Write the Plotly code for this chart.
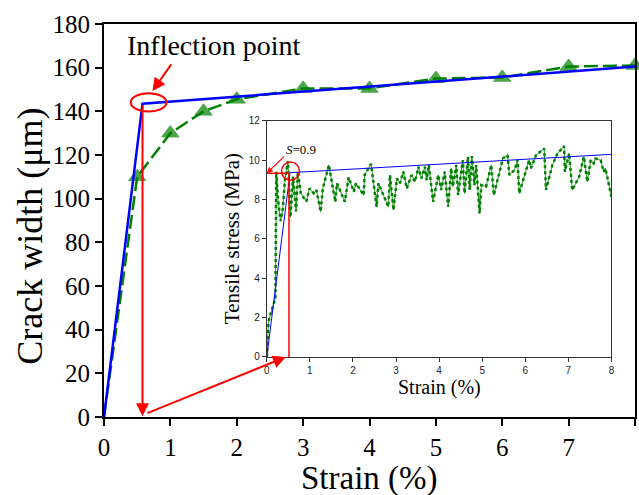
import plotly.graph_objects as go

# Main chart data
main_strain = [0, 0.5, 1, 1.5, 2, 3, 4, 5, 6, 7, 8]
main_crack = [0, 110, 130, 140, 145.5, 150.5, 150.5, 155, 155.5, 160.5, 161]
fit_strain = [0, 0.58, 8]
fit_crack = [0, 143.5, 160.5]

# Inset data
inset_strain = [0, 0.04, 0.09, 0.13, 0.17, 0.20, 0.22, 0.26, 0.32, 0.37,
                0.42, 0.49, 0.55, 0.61, 0.68, 0.72, 0.79, 0.92, 0.99, 1.09,
                1.15, 1.25, 1.30, 1.44, 1.59, 1.63, 1.81, 1.90, 2.02, 2.07,
                2.25, 2.27, 2.42, 2.55, 2.59, 2.82, 2.86, 2.94, 3.02, 3.09,
                3.17, 3.25, 3.36, 3.44, 3.52, 3.59, 3.67, 3.71, 3.76, 3.86,
                3.98, 4.05, 4.13, 4.21, 4.28, 4.32, 4.40, 4.44, 4.55, 4.59,
                4.67, 4.71, 4.76, 4.82, 4.86, 4.94, 4.98, 5.09, 5.21, 5.27,
                5.48, 5.59, 5.63, 5.75, 5.82, 5.86, 6.02, 6.09, 6.13, 6.25,
                6.44, 6.48, 6.63, 6.75, 6.90, 6.92, 7.02, 7.09, 7.25, 7.36,
                7.44, 7.52, 7.59, 7.63, 7.75, 7.82, 7.86, 8.0]
inset_stress = [0, 1.8, 2.2, 2.5, 2.8, 3.0, 9.4, 8.0, 6.9, 7.5,
                9.0, 9.95, 7.1, 9.15, 7.4, 9.4, 8.3, 7.9, 8.56, 8.31,
                8.48, 7.38, 8.56, 9.75, 7.88, 8.82, 7.88, 9.12, 8.39, 8.82,
                8.22, 9.24, 9.80, 7.63, 8.82, 7.63, 9.24, 7.46, 9.07, 8.82,
                9.41, 8.56, 9.24, 8.90, 9.66, 9.07, 9.66, 8.98, 9.75, 7.88,
                9.24, 8.48, 9.41, 7.63, 9.58, 8.65, 9.75, 8.22, 10.0, 8.31,
                10.17, 8.48, 10.2, 8.73, 9.75, 7.29, 8.73, 8.65, 9.75, 8.22,
                10.08, 10.25, 9.24, 9.49, 10.0, 8.31, 9.49, 10.0, 9.58, 10.25,
                10.59, 8.48, 9.75, 10.34, 10.71, 9.41, 10.34, 8.48, 9.15, 10.17,
                8.90, 10.0, 9.83, 10.08, 10.0, 9.41, 9.58, 8.14]
inset_fit_strain = [0, 0.54, 8]
inset_fit_stress = [0, 9.36, 10.29]
inflection_strain = 0.58
inflection_crack = 143.5
inset_s_strain = 0.515
inset_s_stress = 9.33

GREEN = "#008000"
BLUE = "#0000FF"
RED = "#FF0000"
SERIF = "Times New Roman, Liberation Serif, Tinos, serif"
SANS = "Arial, Liberation Sans, sans-serif"

fig = go.Figure()

fig.add_trace(go.Scatter(
    x=main_strain, y=main_crack, mode="lines+markers",
    line=dict(color=GREEN, width=2.5, dash="14px,5px"),
    marker=dict(symbol="triangle-up", size=[0] + [15] * (len(main_strain) - 1), color=GREEN,
                line=dict(color=GREEN, width=1)),
    cliponaxis=False, xaxis="x", yaxis="y", showlegend=False))
fig.add_trace(go.Scatter(
    x=fit_strain, y=fit_crack, mode="lines",
    line=dict(color=BLUE, width=2.5), xaxis="x", yaxis="y", showlegend=False))

# Inset traces
fig.add_trace(go.Scatter(
    x=inset_strain, y=inset_stress, mode="lines",
    line=dict(color=GREEN, width=0.8), xaxis="x2", yaxis="y2", showlegend=False))
fig.add_trace(go.Scatter(
    x=inset_strain, y=inset_stress, mode="lines",
    line=dict(color=GREEN, width=2.5, dash="dot"), xaxis="x2", yaxis="y2", showlegend=False))
fig.add_trace(go.Scatter(
    x=inset_fit_strain, y=inset_fit_stress, mode="lines",
    line=dict(color=BLUE, width=1), xaxis="x2", yaxis="y2", showlegend=False))

shapes = [
    dict(type="circle", xref="x", yref="y", x0=0.404, x1=0.94, y0=139.9, y1=148.3,
         line=dict(color=RED, width=2)),
    dict(type="circle", xref="x2", yref="y2", x0=0.55 - 0.21, x1=0.55 + 0.21,
         y0=9.44 - 0.46, y1=9.44 + 0.46, line=dict(color=RED, width=1.5)),
    dict(type="line", xref="x2", yref="y2", x0=0, x1=inset_s_strain,
         y0=inset_s_stress, y1=inset_s_stress, line=dict(color=RED, width=1.5)),
    dict(type="line", xref="x2", yref="y2", x0=inset_s_strain, x1=inset_s_strain,
         y0=inset_s_stress, y1=0, line=dict(color=RED, width=1.5)),
]

annotations = [
    dict(x=inflection_strain, y=0.3, xref="x", yref="y",
         ax=inflection_strain, ay=inflection_crack, axref="x", ayref="y",
         text="", showarrow=True, arrowhead=2, arrowsize=1.3, arrowwidth=2, arrowcolor=RED),
    dict(x=2.74, y=27.5, xref="x", yref="y",
         ax=0.63, ay=1.5, axref="x", ayref="y",
         text="", showarrow=True, arrowhead=2, arrowsize=1.3, arrowwidth=2, arrowcolor=RED),
    dict(x=0.73, y=149.3, xref="x", yref="y",
         ax=1.03, ay=162.2, axref="x", ayref="y",
         text="", showarrow=True, arrowhead=2, arrowsize=1.3, arrowwidth=2, arrowcolor=RED),
    dict(x=1.663, y=170, xref="x", yref="y", text="Inflection point", showarrow=False,
         font=dict(family=SERIF, size=28, color="black")),
    dict(x=0, y=inset_s_stress, xref="x2", yref="y2",
         ax=0.44, ay=10.26, axref="x2", ayref="y2",
         text="", showarrow=True, arrowhead=2, arrowsize=1, arrowwidth=1.2, arrowcolor=RED),
    dict(x=0.79, y=10.55, xref="x2", yref="y2", text="<i>S</i>=0.9", showarrow=False,
         font=dict(family=SERIF, size=13, color="black")),
    dict(x=0.5, y=-0.157, xref="paper", yref="paper", text="Strain (%)", showarrow=False,
         font=dict(family=SERIF, size=33, color="black"), xanchor="center", yanchor="middle"),
    dict(x=-0.14, y=0.4606, xref="paper", yref="paper", text="Crack width (μm)", showarrow=False,
         textangle=-90, font=dict(family=SERIF, size=36, color="black"),
         xanchor="center", yanchor="middle"),
    dict(x=0.631, y=0.0763, xref="paper", yref="paper", text="Strain (%)", showarrow=False,
         font=dict(family=SERIF, size=20, color="black"), xanchor="center", yanchor="middle"),
    dict(x=0.2416, y=0.4533, xref="paper", yref="paper", text="Tensile stress (MPa)",
         showarrow=False, textangle=-90, font=dict(family=SERIF, size=21, color="black"),
         xanchor="center", yanchor="middle"),
]

fig.update_layout(
    width=639, height=495,
    margin=dict(l=104, r=1, t=24, b=78),
    paper_bgcolor="white", plot_bgcolor="white",
    shapes=shapes, annotations=annotations,
    xaxis=dict(range=[0, 8], dtick=1, showline=True, mirror=True, linewidth=2, linecolor="black",
               ticks="outside", ticklen=7, tickwidth=2, tickcolor="black", showgrid=False,
               zeroline=False, tickfont=dict(family=SERIF, size=25, color="black")),
    yaxis=dict(range=[0, 180], dtick=20, showline=True, mirror=True, linewidth=2, linecolor="black",
               ticks="outside", ticklen=7, tickwidth=2, tickcolor="black", showgrid=False,
               zeroline=False, tickfont=dict(family=SERIF, size=25, color="black")),
    xaxis2=dict(domain=[0.3066, 0.9556], anchor="y2", range=[0, 8], dtick=1, showline=True,
                mirror=True, linewidth=1, linecolor="#333333", ticks="outside", ticklen=4,
                tickwidth=1, tickcolor="#333333", showgrid=False, zeroline=False,
                tickfont=dict(family=SANS, size=10, color="#222222")),
    yaxis2=dict(domain=[0.1527, 0.754], anchor="x2", range=[0, 12], dtick=2, showline=True,
                mirror=True, linewidth=1, linecolor="#333333", ticks="outside", ticklen=4,
                tickwidth=1, tickcolor="#333333", showgrid=False, zeroline=False,
                tickfont=dict(family=SANS, size=10, color="#222222")),
)

fig.write_html("out.html")
